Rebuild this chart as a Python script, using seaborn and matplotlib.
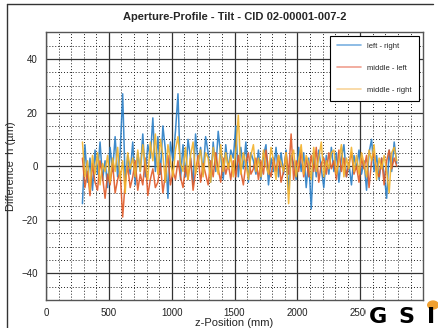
import matplotlib
matplotlib.use("Agg")
import matplotlib.pyplot as plt
import matplotlib.ticker as mticker
from matplotlib.lines import Line2D
from matplotlib.patches import Circle, Rectangle
import numpy as np
import pandas as pd
import seaborn as sns

# ── Data ──────────────────────────────────────────────────────────────────────
Z_POS = list(range(290, 2800, 20))   # measurement grid, mm

LEFT_RIGHT = [
    -14, 8, -6, 3, -9, 6, -3, 9, -5, 2,
    -8, 7, -2, 11, -4, 5, 27, -6, 4, -3,
    9, -7, 5, -2, 12, -4, 8, 3, 18, -2,
    11, -3, 15, 6, -12, 9, 2, 13, 27, -5,
    8, -4, 10, 3, -7, 12, 1, 7, -3, 11,
    5, -6, 9, -2, 13, 4, -5, 8, -1, 6,
    3, 15, -4, 7, -1, 9, -6, 5, 2, -3,
    6, -5, 4, 8, -7, 3, -2, 7, -4, 5,
    -3, 6, -9, 4, 1, -5, 7, -2, 5, -8,
    3, -16, 5, -4, 6, -1, -8, 4, -3, 7,
    -2, 5, -6, 3, 8, -4, 1, -7, 4, -1,
    6, -3, 2, -9, 5, 10, -2, 4, -5, 3,
    -3, -12, 6, -2, 9, 1,
]
MIDDLE_LEFT = [
    3, -8, -2, -11, 1, -6, -9, 2, -4, -12,
    -3, -7, 1, -10, -5, -2, -19, -6, 0, -8,
    -4, 2, -9, -3, -7, 3, -11, -5, -1, -8,
    -6, 1, -10, -3, 4, -7, -2, -5, 2, -4,
    -8, 0, -5, 3, -9, -2, 4, -6, 1, -3,
    -7, 2, -4, 5, -1, -6, 3, -3, 1, -5,
    2, -4, 4, -2, -7, 1, 5, -3, -1, 3,
    -5, 2, -3, 6, -1, -4, 3, -2, 4, -6,
    -2, 5, -3, 12, -5, 2, -2, 6, -4, 3,
    -4, 4, -2, 7, -6, 1, 3, -3, 5, -1,
    2, -5, 6, -2, 3, -4, 1, 5, -3, 0,
    -6, 3, -1, 4, -8, 2, 5, -2, -4, 3,
    -7, 2, 6, -1, 3, 0,
]
MIDDLE_RIGHT = [
    9, -4, 2, -9, 4, -3, 5, -7, 1, -2,
    4, -6, 3, -2, 7, -5, 2, -10, 5, -1,
    3, -4, 6, -2, 8, 1, -5, 9, 2, 12,
    -3, 10, 4, -6, 8, 2, -4, 6, 11, 1,
    -2, 7, -5, 4, 9, -3, 2, 6, -4, 5,
    3, -6, 7, 1, -3, 8, -2, 5, -1, 4,
    -4, 6, 19, -3, 5, 1, -5, 4, 8, -2,
    3, -4, 6, 0, -3, 7, 2, -5, 4, 1,
    -2, 5, -14, 3, 6, -4, 2, 8, -3, 4,
    1, -5, 7, -2, 3, 9, -4, 2, -1, 5,
    6, -3, 2, 8, -4, 3, -1, 7, -2, 4,
    -3, 5, 1, -4, 6, 2, 8, -5, 3, -1,
    4, -2, -10, 5, 7, 2,
]
SERIES = ["left - right", "middle - left", "middle - right"]
X_TICKS = [0, 500, 1000, 1500, 2000, 2500]

# ── Colours ───────────────────────────────────────────────────────────────────
LINE_COLS = {"left - right": "#2a7ec6", "middle - left": "#e05a28", "middle - right": "#f2b22a"}
LEG_COLS = ["#7ab0e0", "#f0a090", "#f8d49a"]

df = pd.concat([
    pd.DataFrame({"z": Z_POS, "h": LEFT_RIGHT, "series": SERIES[0]}),
    pd.DataFrame({"z": Z_POS, "h": MIDDLE_LEFT, "series": SERIES[1]}),
    pd.DataFrame({"z": Z_POS, "h": MIDDLE_RIGHT, "series": SERIES[2]}),
])

sns.set_style("white")
plt.rcParams["font.family"] = ["Liberation Sans", "DejaVu Sans"]

fig = plt.figure(figsize=(4.38, 3.28), dpi=100)
ax = fig.add_axes([0.105, 0.085, 0.861, 0.817])

sns.lineplot(data=df, x="z", y="h", hue="series", palette=LINE_COLS,
             estimator=None, lw=1.1, alpha=0.9, legend=False, ax=ax)

ax.set_xlim(0, 3000)
ax.set_ylim(-50, 50)
ax.set_xticks(X_TICKS)
ax.xaxis.set_minor_locator(mticker.MultipleLocator(100))
ax.yaxis.set_major_locator(mticker.MultipleLocator(20))
ax.yaxis.set_minor_locator(mticker.MultipleLocator(5))
ax.grid(which="major", color="#333333", lw=0.9)
ax.grid(which="minor", color="#222222", lw=0.7, linestyle=(0, (1, 2)))
ax.set_axisbelow(True)
ax.tick_params(which="both", direction="in", length=2, labelsize=7, colors="#222222", pad=6)
ax.tick_params(which="major", length=3)
for sp in ax.spines.values():
    sp.set_edgecolor("#555555")
    sp.set_linewidth(1.0)

ax.set_xlabel("z-Position (mm)", fontsize=8, labelpad=0)
ax.set_ylabel("Difference  h (\u00b5m)", fontsize=8, labelpad=4)
fig.text(0.535, 0.948, "Aperture-Profile - Tilt - CID 02-00001-007-2",
         ha="center", va="center", fontsize=8, fontweight="bold")

handles = [Line2D([], [], color=c, lw=1.2) for c in LEG_COLS]
leg = ax.legend(handles, SERIES, loc="upper right", bbox_to_anchor=(0.988, 0.986),
                fontsize=5.5, frameon=True, fancybox=False, framealpha=1,
                edgecolor="black", labelspacing=1.9, handlelength=3.2,
                borderpad=0.9, handletextpad=0.8, borderaxespad=0)
leg.get_frame().set_linewidth(0.8)

# outer frame and logo
fig.add_artist(Line2D([7 / 438, 7 / 438], [0, 1 - 4 / 328], color="#333333", lw=1.0))
fig.add_artist(Line2D([7 / 438, 433 / 438], [1 - 4 / 328, 1 - 4 / 328], color="#333333", lw=1.0))
fig.add_artist(Rectangle((366 / 438, 0), 72 / 438, 20 / 328, transform=fig.transFigure,
                         facecolor="white", edgecolor="none"))
for ch, xp in zip("GSI", [369, 398, 427]):
    fig.text(xp / 438, 1 / 328, ch, ha="left", va="bottom", fontsize=16,
             fontweight="heavy", family="DejaVu Sans", color="black")
fig.add_artist(Circle((433 / 438, 1 - 305 / 328), 0.012, transform=fig.transFigure,
                      color="#f0a030"))

plt.savefig("out.png", dpi=100)
